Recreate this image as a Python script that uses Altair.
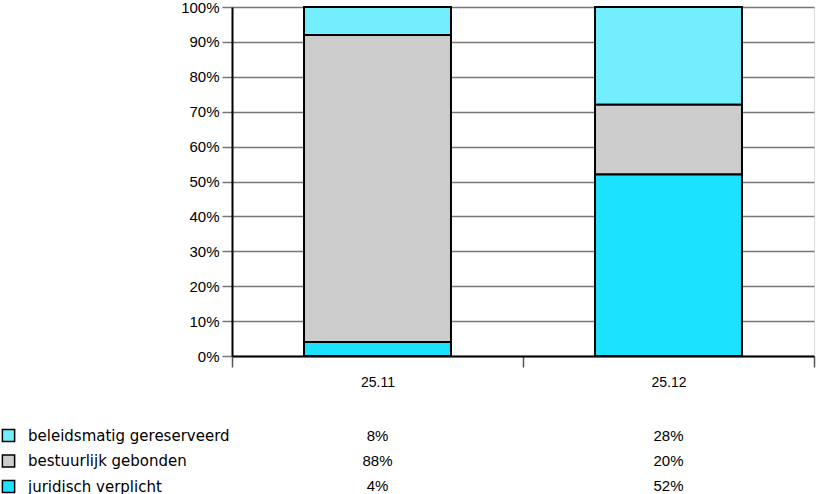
import altair as alt
import pandas as pd

categories = ["25.11", "25.12"]
series = ["beleidsmatig gereserveerd", "bestuurlijk gebonden", "juridisch verplicht"]
stack_order = [2, 1, 0]
colors = ["#73EEFF", "#CCCCCC", "#1BE3FF"]
values_2511 = [8, 88, 4]
values_2512 = [28, 20, 52]

rows = []
for cat, vals in zip(categories, [values_2511, values_2512]):
    for s, o, v in zip(series, stack_order, vals):
        rows.append({"jaar": cat, "reeks": s, "orde": o, "waarde": v / 100, "label": f"{v}%"})
df = pd.DataFrame(rows)

x_enc = alt.X(
    "jaar:N",
    sort=categories,
    scale=alt.Scale(paddingInner=0, paddingOuter=0),
    axis=alt.Axis(
        title=None, labelAngle=0, tickBand="extent", tickSize=11, tickColor="#555555",
        tickWidth=1.5, domainColor="black", domainWidth=2, labelFont="Liberation Sans",
        labelFontSize=14, labelColor="black", labelPadding=8,
    ),
)

bars = alt.Chart(df).mark_bar(
    stroke="black", strokeWidth=2, width=alt.RelativeBandSize(0.505)
).encode(
    x=x_enc,
    y=alt.Y(
        "waarde:Q",
        stack="zero",
        scale=alt.Scale(domain=[0, 1], nice=False),
        axis=alt.Axis(
            title=None, format="%", values=[i / 10 for i in range(11)], grid=True,
            gridColor="#777777", gridWidth=1.5, tickSize=10, tickColor="#777777",
            tickWidth=1.5, domainColor="black", domainWidth=2,
            labelFont="Liberation Sans", labelFontSize=15, labelColor="black", labelPadding=3,
        ),
    ),
    color=alt.Color(
        "reeks:N",
        sort=series,
        scale=alt.Scale(domain=series, range=colors),
        legend=alt.Legend(
            title=None, orient="none", legendX=-231, legendY=421, symbolType="square",
            symbolSize=150, symbolStrokeColor="black", symbolStrokeWidth=1.5,
            labelFont="DejaVu Sans", labelFontSize=15, labelColor="black",
            labelOffset=12, rowPadding=6.5, labelLimit=400, symbolOpacity=1,
        ),
    ),
    order=alt.Order("orde:Q", sort="ascending"),
)

table = alt.Chart(df).mark_text(
    font="Liberation Sans", fontSize=15, color="black", baseline="middle"
).encode(
    x=alt.X("jaar:N", sort=categories),
    y=alt.Y("reeks:N", sort=series, axis=None,
            scale=alt.Scale(type="point", range=[429, 479], padding=0)),
    text="label:N",
)

chart = alt.layer(bars, table).resolve_scale(y="independent").properties(
    width=582, height=349,
    autosize=alt.AutoSizeParams(type="none"),
    padding={"left": 232, "top": 7, "right": 2, "bottom": 138},
).configure_view(stroke="black", strokeWidth=2).configure(background="white")

chart.save("out.html", embed_options={"renderer": "svg", "actions": False})
